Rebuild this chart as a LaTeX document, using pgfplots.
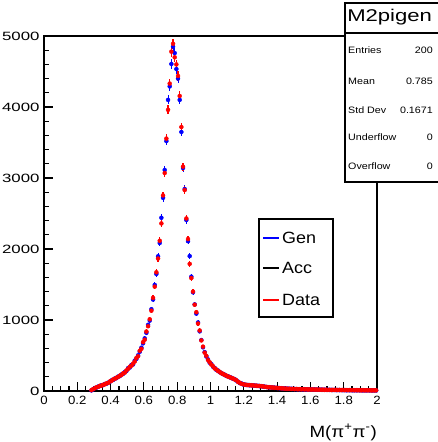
\documentclass[border=0pt]{standalone}
\usepackage{pgfplots}
\pgfplotsset{compat=1.18}
\usepackage{pgfplotstable}
\usepackage{fontspec}
\setmainfont{Liberation Sans}
\pgfplotstableread{
x gen data
0.285 8 12
0.295 22 27
0.305 42 38
0.315 47 53
0.325 63 58
0.335 68 73
0.345 81 76
0.355 83 88
0.365 99 93
0.375 102 108
0.385 118 113
0.395 127 134
0.405 149 142
0.415 156 163
0.425 176 170
0.435 181 188
0.445 204 197
0.455 209 216
0.465 233 225
0.475 241 249
0.485 268 258
0.495 281 290
0.505 322 311
0.515 330 341
0.525 367 356
0.535 374 386
0.545 428 415
0.555 452 466
0.565 503 490
0.575 552 567
0.585 610 594
0.595 671 688
0.605 741 722
0.615 819 838
0.625 932 912
0.635 991 1010
0.645 1152 1131
0.655 1288 1311
0.665 1494 1470
0.675 1648 1672
0.685 1897 1866
0.695 2085 2116
0.705 2440 2360
0.715 2720 2755
0.725 3113 3070
0.735 3520 3555
0.745 4100 3960
0.755 4290 4330
0.765 4606 4780
0.775 4850 4890
0.785 4760 4700
0.795 4535 4600
0.805 4400 4437
0.815 4100 4155
0.825 3648 3718
0.835 3141 3160
0.845 2845 2830
0.855 2408 2430
0.865 2110 2140
0.875 1900 1790
0.885 1610 1590
0.895 1390 1400
0.905 1220 1215
0.915 1090 1110
0.925 965 950
0.935 840 852
0.945 718 712
0.955 615 625
0.965 548 540
0.975 486 495
0.985 445 436
0.995 398 405
1.005 380 372
1.015 342 350
1.025 326 318
1.035 297 304
1.045 289 281
1.055 265 271
1.065 255 249
1.075 237 243
1.085 231 225
1.095 212 218
1.105 208 202
1.115 193 199
1.125 188 182
1.135 172 178
1.145 168 162
1.155 147 153
1.165 133 128
1.175 112 118
1.185 108 102
1.195 93 97
1.205 92 88
1.215 84 88
1.225 86 82
1.235 80 84
1.245 82 78
1.255 76 80
1.265 78 74
1.275 72 76
1.285 74 70
1.295 68 72
1.305 70 66
1.315 62 66
1.325 62 58
1.335 55 59
1.345 56 52
1.355 50 54
1.365 52 48
1.375 46 50
1.385 48 44
1.395 42 46
1.405 44 40
1.415 38 42
1.425 40 36
1.435 34 38
1.445 36 32
1.455 31 35
1.465 34 30
1.475 29 33
1.485 32 28
1.495 27 31
1.505 30 26
1.515 25 29
1.525 28 24
1.535 23 27
1.545 27 23
1.555 22 26
1.565 26 22
1.575 21 25
1.585 24 20
1.595 20 24
1.605 23 19
1.615 19 23
1.625 22 18
1.635 18 22
1.645 21 17
1.655 17 21
1.665 20 16
1.675 16 20
1.685 19 15
1.695 15 19
1.705 18 14
1.715 14 18
1.725 17 13
1.735 13 17
1.745 16 14
1.755 12 16
1.765 15 13
1.775 12 16
1.785 14 12
1.795 11 15
1.805 14 12
1.815 10 14
1.825 13 11
1.835 10 14
1.845 13 11
1.855 9 13
1.865 12 10
1.875 9 13
1.885 12 10
1.895 9 12
1.905 11 9
1.915 8 12
1.925 11 9
1.935 8 11
1.945 11 9
1.955 8 11
1.965 10 8
1.975 7 10
1.985 10 8
1.995 7 10
}\datatab
\begin{document}
\begin{tikzpicture}
\useasboundingbox (-44pt,-51pt) rectangle (393pt,391pt);
\begin{axis}[
  at={(0pt,0pt)}, anchor=south west,
  scale only axis, width=333pt, height=355pt,
  xmin=0, xmax=2, ymin=0, ymax=5000,
  axis line style={line width=1.5pt},
  xtick={0,0.2,0.4,0.6,0.8,1,1.2,1.4,1.6,1.8,2},
  xticklabels={0,0.2,0.4,0.6,0.8,1,1.2,1.4,1.6,1.8,2},
  ytick={0,1000,2000,3000,4000,5000},
  yticklabels={0,1000,2000,3000,4000,5000},
  minor x tick num=3, minor y tick num=4,
  tick align=inside, xtick pos=bottom, ytick pos=left,
  major tick length=9pt, minor tick length=5pt,
  every tick/.style={line width=1.2pt, black},
  /pgf/number format/assume math mode=true,
  xticklabel style={font=\fontsize{12}{12}\selectfont, xscale=1.1, anchor=north, inner sep=0pt, yshift=-5pt},
  yticklabel style={font=\fontsize{12}{12}\selectfont, xscale=1.4, anchor=east, inner sep=0pt, xshift=-3pt},
]
\addplot[blue, only marks, mark=none,
  error bars/.cd, x dir=both, x fixed=0.005, y dir=both, y explicit,
  error mark=none, error bar style={blue, line width=1.0pt}]
  table[x=x, y=gen, y error expr={sqrt(\thisrow{gen})}] {\datatab};
\addplot[red, only marks, mark=none,
  error bars/.cd, x dir=both, x fixed=0.003, y dir=both, y explicit,
  error mark=none, error bar style={red, line width=1.4pt}]
  table[x=x, y=data, y error expr={sqrt(\thisrow{data})}] {\datatab};
\end{axis}
% x label
\node[anchor=base east, font=\fontsize{16.3}{16.3}\selectfont, xscale=1.15, inner sep=0pt] at (333pt,-46pt) {M(π\textsuperscript{+}π\textsuperscript{-})};
% legend
\draw[line width=1.3pt, fill=white] (215pt,74pt) rectangle (289pt,172pt);
\draw[blue, line width=1.2pt] (219pt,153pt) -- (235pt,153pt);
\draw[black, line width=1.2pt] (219pt,123pt) -- (235pt,123pt);
\draw[red, line width=1.2pt] (219pt,91pt) -- (235pt,91pt);
\node[anchor=west, inner sep=0pt, xscale=1.1, font=\fontsize{16.3}{16.3}\selectfont] at (238pt,153pt) {Gen};
\node[anchor=west, inner sep=0pt, xscale=1.1, font=\fontsize{16.3}{16.3}\selectfont] at (238pt,123pt) {Acc};
\node[anchor=west, inner sep=0pt, xscale=1.1, font=\fontsize{16.3}{16.3}\selectfont] at (238pt,91pt) {Data};
% stats box
\draw[line width=1.5pt, fill=white] (301pt,209pt) rectangle (420pt,388pt);
\draw[line width=1.2pt] (301pt,358pt) -- (420pt,358pt);
\node[anchor=west, inner sep=0pt, xscale=1.3, font=\fontsize{17}{17}\selectfont] at (303pt,374pt) {M2pigen};
\foreach \lab/\val/\yy in {Entries/200/341, Mean/0.785/310, Std Dev/0.1671/281, Underflow/0/254, Overflow/0/225}{
  \node[anchor=west, inner sep=0pt, xscale=1.15, font=\fontsize{9.3}{9.3}\selectfont] at (304pt,\yy pt) {\lab};
  \node[anchor=east, inner sep=0pt, xscale=1.15, font=\fontsize{9.3}{9.3}\selectfont] at (389pt,\yy pt) {\val};
}
\end{tikzpicture}
\end{document}
